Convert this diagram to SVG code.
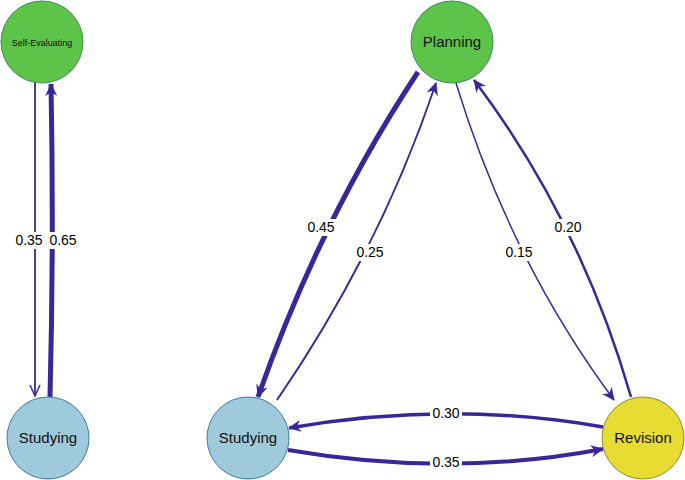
<svg xmlns="http://www.w3.org/2000/svg" width="685" height="480" viewBox="0 0 685 480">
<style>
.e{fill:none;stroke:#3b2699}
.lbl{font-family:"Liberation Sans",Arial,sans-serif;font-size:14px;text-anchor:middle;fill:#000}
.nl{font-family:"Liberation Sans",Arial,sans-serif;text-anchor:middle;fill:#111}
.bg{fill:#fff}
</style>
<defs>
<marker id="a" markerUnits="userSpaceOnUse" markerWidth="14" markerHeight="12" refX="12" refY="6" orient="auto"><path d="M0,0 L13,6 L0,12 L4,6 z" fill="#3b2699"/></marker>
<marker id="o" markerUnits="userSpaceOnUse" markerWidth="14" markerHeight="12" refX="12" refY="6" orient="auto"><path d="M1,1 L12,6 L1,11" fill="none" stroke="#3b2699" stroke-width="1.5"/></marker>
</defs>
<rect width="685" height="480" fill="#fff"/>
<g id="connectors">
<path class="e" stroke-width="1.8" d="M35,82 L35,396" marker-end="url(#o)"/>
<path class="e" stroke-width="5" d="M50,397 Q54,240 51,84" marker-end="url(#a)"/>
<path class="e" stroke-width="5" d="M418,72 Q320,220 258,397" marker-end="url(#a)"/>
<path class="e" stroke-width="2" d="M277,400 Q380,250 436,83" marker-end="url(#a)"/>
<path class="e" stroke-width="1.5" d="M456,83 Q510,260 614,400" marker-end="url(#a)"/>
<path class="e" stroke-width="2.5" d="M631,397 Q580,220 474,80" marker-end="url(#a)"/>
<path class="e" stroke-width="3.5" d="M603,427 Q450,400 289,428" marker-end="url(#a)"/>
<path class="e" stroke-width="4" d="M288,450 Q450,478 603,449" marker-end="url(#a)"/>
<rect class="bg" x="14" y="232" width="30" height="17"/><text class="lbl" x="29" y="245">0.35</text>
<rect class="bg" x="48" y="232" width="30" height="17"/><text class="lbl" x="63" y="245">0.65</text>
<rect class="bg" x="306" y="219" width="30" height="17"/><text class="lbl" x="321" y="232">0.45</text>
<rect class="bg" x="355" y="244" width="30" height="17"/><text class="lbl" x="370" y="257">0.25</text>
<rect class="bg" x="504" y="244" width="30" height="17"/><text class="lbl" x="519" y="257">0.15</text>
<rect class="bg" x="553" y="219" width="30" height="17"/><text class="lbl" x="568" y="232">0.20</text>
<rect class="bg" x="430" y="405" width="32" height="17"/><text class="lbl" x="446" y="418">0.30</text>
<rect class="bg" x="430" y="454" width="32" height="17"/><text class="lbl" x="446" y="467">0.35</text>
</g>
<g id="se"><circle cx="42" cy="42" r="41" fill="#5ec449" stroke="#3e8a5a"/><text class="nl" x="42" y="46" font-size="9">Self-Evaluating</text></g>
<g id="st1"><circle cx="48" cy="438" r="41" fill="#9ecadb" stroke="#3f7da6"/><text class="nl" x="48" y="443" font-size="15">Studying</text></g>
<g id="pl"><circle cx="452" cy="42" r="41" fill="#5ec449" stroke="#3e8a5a"/><text class="nl" x="452" y="47" font-size="15">Planning</text></g>
<g id="st2"><circle cx="248" cy="438" r="41" fill="#9ecadb" stroke="#3f7da6"/><text class="nl" x="248" y="443" font-size="15">Studying</text></g>
<g id="rv"><circle cx="643" cy="438" r="41" fill="#e6dc32" stroke="#8a8a3a"/><text class="nl" x="643" y="443" font-size="15">Revision</text></g>
</svg>
